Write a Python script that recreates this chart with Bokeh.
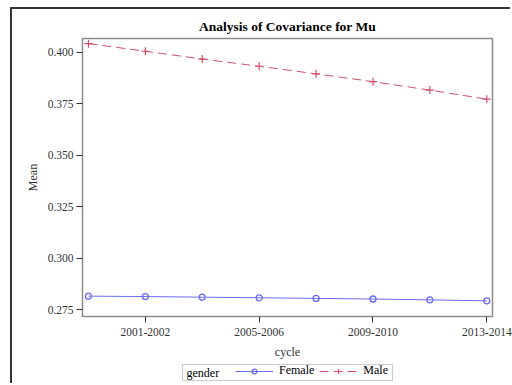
from bokeh.plotting import figure
from bokeh.layouts import column
from bokeh.models import (ColumnDataSource, Legend, LegendItem, FixedTicker, Range1d,
                          NumeralTickFormatter, Label, BoxAnnotation)
from bokeh.embed import file_html
from bokeh.resources import INLINE

cycles = ["1999-2000", "2001-2002", "2003-2004", "2005-2006",
          "2007-2008", "2009-2010", "2011-2012", "2013-2014"]
female = [0.2815, 0.2813, 0.2810, 0.2807, 0.2804, 0.2801, 0.2797, 0.2792]
male = [0.4043, 0.4006, 0.3968, 0.3933, 0.3896, 0.3858, 0.3817, 0.3773]
shown_ticks = ["2001-2002", "2005-2006", "2009-2010", "2013-2014"]
y_ticks = [0.275, 0.300, 0.325, 0.350, 0.375, 0.400]
groups = ["Female", "Male"]
legend_title = "gender"

FONT = "Liberation Serif"
FCOL = "#6b6bf2"
MCOL = "#d0506a"
idx = list(range(len(cycles)))
src = ColumnDataSource(dict(x=idx, female=female, male=male))

p = figure(width=500, height=352, sizing_mode="fixed", output_backend="svg",
           toolbar_location=None,
           x_range=Range1d(-0.105, 7.1), y_range=Range1d(0.2716, 0.4068),
           min_border_left=70, min_border_right=20, min_border_top=29,
           min_border_bottom=45)

p.title.text = "Analysis of Covariance for Mu"
p.title.align = "center"
p.title.text_font = FONT
p.title.text_font_size = "13.5px"
p.title.text_font_style = "bold"
p.title.text_color = "#000000"
p.title.standoff = 9

p.grid.visible = False
p.outline_line_color = "#8c8c8c"
p.outline_line_width = 1.5

p.xaxis.ticker = FixedTicker(ticks=[cycles.index(c) for c in shown_ticks])
p.xaxis.major_label_overrides = {i: c for i, c in enumerate(cycles)}
p.yaxis.ticker = FixedTicker(ticks=y_ticks)
p.yaxis.formatter = NumeralTickFormatter(format="0.000")

for ax in (p.xaxis[0], p.yaxis[0]):
    ax.axis_line_color = None
    ax.minor_tick_line_color = None
    ax.major_tick_line_color = "#333333"
    ax.major_tick_out = 6
    ax.major_tick_in = 0
    ax.major_label_text_font = FONT
    ax.major_label_text_font_size = "11.5px"
    ax.major_label_text_color = "#333333"
    ax.axis_label_text_font = FONT
    ax.axis_label_text_font_size = "12px"
    ax.axis_label_text_font_style = "normal"
    ax.axis_label_text_color = "#333333"

p.xaxis.axis_label = "cycle"
p.yaxis.axis_label = "Mean"
p.xaxis.major_label_standoff = 5
p.xaxis.axis_label_standoff = 6
p.yaxis.major_label_standoff = 3
p.yaxis.axis_label_standoff = 5

fl = p.line("x", "female", source=src, line_color=FCOL, line_width=1)
fm = p.scatter("x", "female", source=src, marker="circle", size=6,
               fill_color=None, line_color=FCOL, line_width=1.3)
ml = p.line("x", "male", source=src, line_color=MCOL, line_width=1,
            line_dash="9 5")
mm = p.scatter("x", "male", source=src, marker="cross", size=8,
               line_color=MCOL, line_width=1.2)

# legend strip below the chart (its renderers reuse the series' first point,
# kept outside the strip's visible range so only the legend keys show)
q = figure(width=500, height=24, sizing_mode="fixed", output_backend="svg",
           toolbar_location=None,
           x_range=Range1d(100, 101), y_range=Range1d(100, 101),
           min_border_left=0, min_border_right=0, min_border_top=0,
           min_border_bottom=0)
q.axis.visible = False
q.grid.visible = False
q.outline_line_color = None

lsrc = ColumnDataSource(dict(x=[idx[0]], f=[female[0]], m=[male[0]]))
qfl = q.line("x", "f", source=lsrc, line_color=FCOL, line_width=1)
qfm = q.scatter("x", "f", source=lsrc, marker="circle", size=6,
                fill_color=None, line_color=FCOL, line_width=1.3)
qml = q.line("x", "m", source=lsrc, line_color=MCOL, line_width=1, line_dash="9 5")
qmm = q.scatter("x", "m", source=lsrc, marker="cross", size=8,
                line_color=MCOL, line_width=1.2)

legend = Legend(items=[LegendItem(label=groups[0], renderers=[qfl, qfm]),
                       LegendItem(label=groups[1], renderers=[qml, qmm])],
                orientation="horizontal", location=(153, 7))
legend.label_text_font = FONT
legend.label_text_font_size = "12px"
legend.label_text_color = "#000000"
legend.border_line_color = None
legend.background_fill_alpha = 0
legend.glyph_width = 38
legend.glyph_height = 12
legend.label_height = 12
legend.label_standoff = 6
legend.padding = 0
legend.spacing = 5
legend.margin = 0
q.add_layout(legend)

q.add_layout(BoxAnnotation(left=100, right=310, bottom=5, top=21,
                           left_units="screen", right_units="screen",
                           bottom_units="screen", top_units="screen",
                           fill_alpha=0, line_color="#555555", line_width=1.2))
q.add_layout(Label(x=104, y=13, x_units="screen", y_units="screen", text=legend_title,
                   text_baseline="middle",
                   text_font=FONT, text_font_size="12px", text_color="#000000"))

layout = column(p, q, spacing=0, sizing_mode="fixed", width=500, height=376,
                styles={"border-left": "2px solid #333333",
                        "border-top": "2px solid #333333",
                        "margin-left": "10px", "margin-top": "7px"})

open("out.html", "w").write(file_html(layout, INLINE))
